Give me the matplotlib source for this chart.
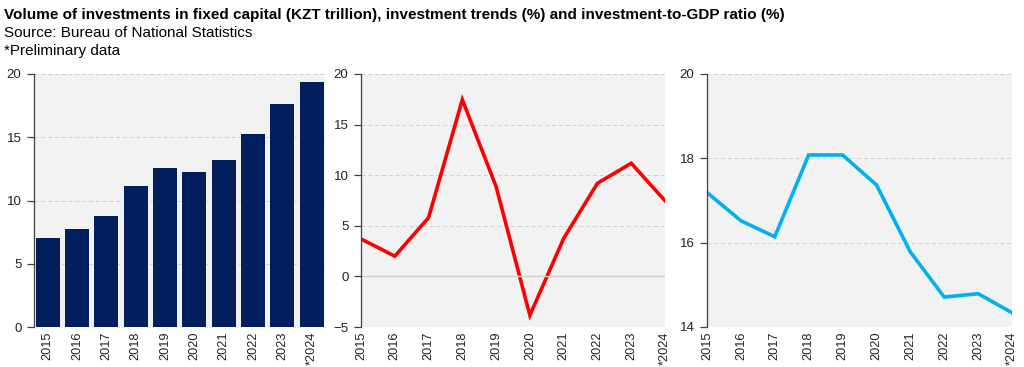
import matplotlib.pyplot as plt
import numpy as np

plt.rcParams["font.family"] = ["Liberation Sans", "DejaVu Sans"]

years = ["2015", "2016", "2017", "2018", "2019", "2020", "2021", "2022", "2023", "*2024"]
volume = [7.0, 7.77, 8.75, 11.12, 12.6, 12.23, 13.2, 15.27, 17.62, 19.34]
trend = [3.7, 2.0, 5.8, 17.46, 8.87, -3.84, 3.75, 9.2, 11.18, 7.48]
gdp_ratio = [17.19, 16.52, 16.14, 18.08, 18.08, 17.37, 15.78, 14.71, 14.79, 14.34]

title = ("Volume of investments in fixed capital (KZT trillion), "
         "investment trends (%) and investment-to-GDP ratio (%)")

fig = plt.figure(figsize=(10.24, 3.67), dpi=100)
W, H = 1024, 367


def add_axis(left, right, top=74, bottom=327):
    ax = fig.add_axes([left / W, 1 - bottom / H, (right - left) / W, (bottom - top) / H])
    ax.set_facecolor("#f2f2f2")
    for side in ("top", "right", "bottom"):
        ax.spines[side].set_visible(False)
    ax.spines["left"].set_color("#404040")
    ax.spines["left"].set_linewidth(0.9)
    ax.tick_params(axis="y", direction="out", length=5, width=0.9, color="#404040",
                   labelsize=9.5, labelcolor="#222222", pad=4)
    ax.tick_params(axis="x", length=0, labelsize=9.2, labelcolor="#222222",
                   labelrotation=90, pad=3)
    ax.yaxis.grid(True, color="#d0d0d0", linestyle=(0, (4, 3)), linewidth=0.7)
    ax.set_axisbelow(True)
    return ax


x = np.arange(len(years))

ax1 = add_axis(34, 325)
ax1.bar(x, volume, width=0.82, color="#001f5c")
ax1.set_xlim(-0.47, 9.45)
ax1.set_ylim(0, 20)
ax1.set_yticks([0, 5, 10, 15, 20])
ax1.set_xticks(x)
ax1.set_xticklabels(years)

ax2 = add_axis(361, 665)
ax2.plot(x, trend, color="#ff0000", linewidth=2.6, solid_joinstyle="miter")
ax2.axhline(0, color="#d0d0d0", linewidth=1.0)
ax2.set_xlim(0, 9)
ax2.set_ylim(-5, 20)
ax2.set_yticks([-5, 0, 5, 10, 15, 20])
ax2.set_xticks(x)
ax2.set_xticklabels(years)

ax3 = add_axis(707, 1012)
ax3.plot(x, gdp_ratio, color="#00b0f0", linewidth=2.6, solid_joinstyle="miter")
ax3.set_xlim(0, 9)
ax3.set_ylim(14, 20)
ax3.set_yticks([14, 16, 18, 20])
ax3.set_xticks(x)
ax3.set_xticklabels(years)

fig.text(4 / W, 1 - 15 / H, title, fontsize=11, fontweight="bold", va="center", ha="left")
fig.text(4 / W, 1 - 33 / H, "Source: Bureau of National Statistics", fontsize=11,
         va="center", ha="left")
fig.text(4 / W, 1 - 51 / H, "*Preliminary data", fontsize=11, va="center", ha="left")

fig.savefig("out.png", dpi=100)
